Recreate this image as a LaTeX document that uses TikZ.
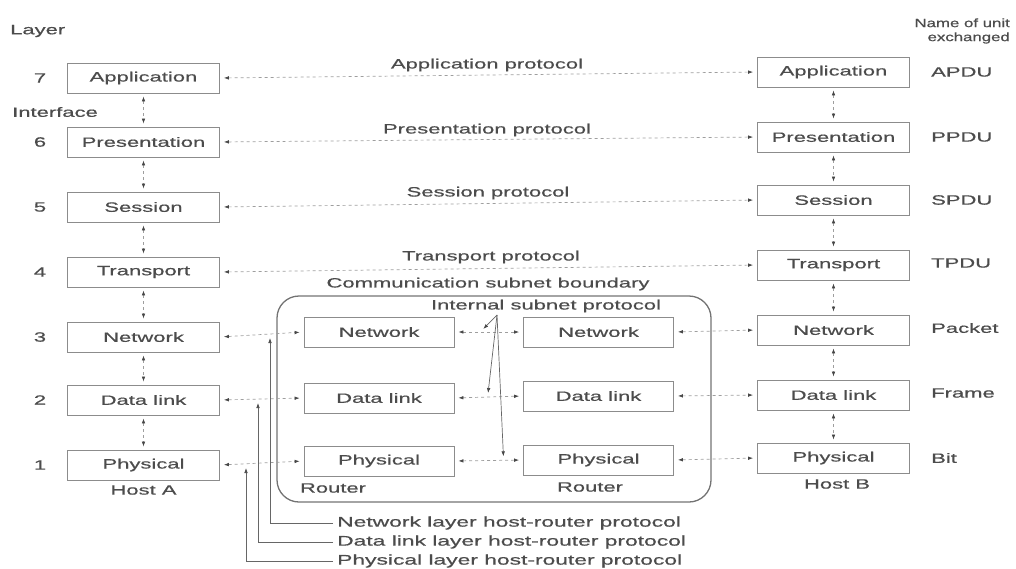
\documentclass[tikz,border=0pt]{standalone}
\usepackage{fontspec}
\setmainfont{Liberation Sans}[FakeStretch=1.63,FakeBold=0.6]
\newfontfamily\hdrfont{Liberation Sans}[FakeStretch=1.4,FakeBold=0.6]
\usetikzlibrary{arrows.meta,calc}

\begin{document}
\begin{tikzpicture}[x=1pt,y=-1pt,
  txt/.style={text=black!70, inner sep=0pt, font=\fontsize{13.5}{15}\selectfont},
  lay/.style={txt, draw=black!45, line width=0.8pt, minimum width=152pt, minimum height=30pt},
  rtr/.style={lay, minimum width=150pt},
  proto/.style={draw=black!38, line width=0.7pt, dash pattern=on 3pt off 3pt,
                {Latex[length=5pt,width=3.6pt,color=black!72]}-{Latex[length=5pt,width=3.6pt,color=black!72]},
                shorten <=4pt, shorten >=4pt},
  iface/.style={proto, shorten <=3pt, shorten >=3pt},
  pointer/.style={draw=black!60, line width=0.7pt, -{Latex[length=5pt,width=3.6pt,color=black!72]}}
]
\useasboundingbox (0,0) rectangle (1016,568);

% headings
\node[txt, anchor=west] (hlayer) at (10,31) {Layer};
\node[txt, anchor=west] (hiface) at (12,112) {Interface};
\node[txt, anchor=east, font=\hdrfont\fontsize{12}{14}\selectfont, align=right] (hunit) at (1010,31)
  {Name of unit\\exchanged};

% layer numbers
\foreach \n/\y in {7/78,6/142,5/207,4/272,3/337,2/400,1/465}
  \node[txt] (num\n) at (40,\y) {\n};

% host A stack
\node[lay] (a7) at (143.5,78)  {Application};
\node[lay] (a6) at (143.5,142) {Presentation};
\node[lay] (a5) at (143.5,207) {Session};
\node[lay] (a4) at (143.5,272) {Transport};
\node[lay] (a3) at (143.5,337) {Network};
\node[lay] (a2) at (143.5,400) {Data link};
\node[lay] (a1) at (143.5,465) {Physical};
\node[txt] (hosta) at (143.5,490) {Host A};

% host B stack
\node[lay] (b7) at (833.5,72)  {Application};
\node[lay] (b6) at (833.5,137) {Presentation};
\node[lay] (b5) at (833.5,200) {Session};
\node[lay] (b4) at (833.5,265) {Transport};
\node[lay] (b3) at (833.5,330) {Network};
\node[lay] (b2) at (833.5,395) {Data link};
\node[lay] (b1) at (833.5,458) {Physical};
\node[txt] (hostb) at (837,484) {Host B};

% units exchanged
\foreach \u/\y in {APDU/72,PPDU/137,SPDU/200,TPDU/263,Packet/328,Frame/393,Bit/458}
  \node[txt, anchor=west] (u\u) at (931,\y) {\u};

% subnet boundary with two routers
\draw[black!55, line width=1.3pt, rounded corners=22pt] (277,296) rectangle (711,502);
\node[txt] (sbound) at (488,284) {Communication subnet boundary};
\node[rtr] (r1n) at (379,332) {Network};
\node[rtr] (r1d) at (379,398) {Data link};
\node[rtr] (r1p) at (379,461) {Physical};
\node[rtr] (r2n) at (598.5,332) {Network};
\node[rtr] (r2d) at (598.5,396) {Data link};
\node[rtr] (r2p) at (598.5,460) {Physical};
\node[txt] (rt1) at (333,488) {Router};
\node[txt] (rt2) at (590,487) {Router};

% peer protocols, layers 7 to 4
\draw[proto] (a7.east) -- (b7.west);
\draw[proto] (a6.east) -- (b6.west);
\draw[proto] (a5.east) -- (b5.west);
\draw[proto] (a4.east) -- (b4.west);
\node[txt] (papp) at (487,65)  {Application protocol};
\node[txt] (ppre) at (487,130) {Presentation protocol};
\node[txt] (pses) at (488,193) {Session protocol};
\node[txt] (ptra) at (491,257) {Transport protocol};

% hop-by-hop protocols, layers 3 to 1
\draw[proto] (a3.east) -- (r1n.west);
\draw[proto] (r1n.east) -- (r2n.west);
\draw[proto] (r2n.east) -- (b3.west);
\draw[proto] (a2.east) -- (r1d.west);
\draw[proto] (r1d.east) -- (r2d.west);
\draw[proto] (r2d.east) -- (b2.west);
\draw[proto] (a1.east) -- (r1p.west);
\draw[proto] (r1p.east) -- (r2p.west);
\draw[proto] (r2p.east) -- (b1.west);

% interfaces between adjacent layers
\foreach \u/\l in {7/6,6/5,5/4,4/3,3/2,2/1}{
  \draw[iface] (a\u.south) -- (a\l.north);
  \draw[iface] (b\u.south) -- (b\l.north);
}

% internal subnet protocol
\node[txt] (isplbl) at (546,306) {Internal subnet protocol};
\coordinate (isp) at (497,315);
\draw[pointer] (isp) -- ($(r1n.east)!0.42!(r2n.west)+(0,-3)$);
\draw[pointer] (isp) -- ($(r1d.east)!0.49!(r2d.west)+(0,-4)$);
\draw[pointer] (isp) -- ($(r1p.east)!0.67!(r2p.west)+(3,-4)$);

% host-router protocols
\coordinate (tipn) at (270,338);
\coordinate (tipd) at (258,403);
\coordinate (tipp) at (246,468);
\begin{scope}[txt/.append style={font=\fontsize{14}{16}\selectfont}]
\node[txt, anchor=west] (hrn) at (337,523) {Network layer host-router protocol};
\node[txt, anchor=west] (hrd) at (337,542) {Data link layer host-router protocol};
\node[txt, anchor=west] (hrp) at (337,561) {Physical layer host-router protocol};
\end{scope}
\draw[pointer, shorten <=4pt] (hrn.west) -| (tipn);
\draw[pointer, shorten <=4pt] (hrd.west) -| (tipd);
\draw[pointer, shorten <=4pt] (hrp.west) -| (tipp);
\end{tikzpicture}
\end{document}
